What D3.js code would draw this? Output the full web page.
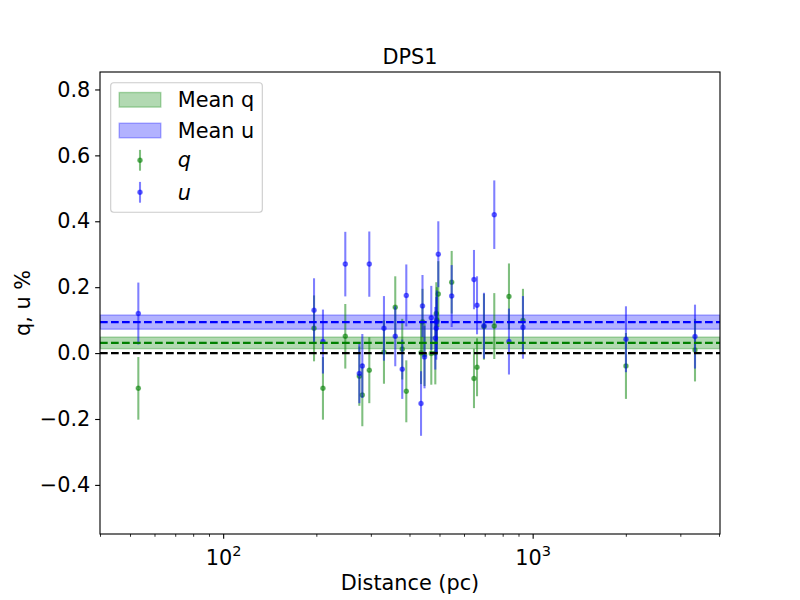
<!DOCTYPE html>
<html>
<head>
<meta charset="utf-8">
<script src="https://cdn.jsdelivr.net/npm/d3@7"></script>
<style>
  html, body { margin: 0; padding: 0; background: #ffffff; }
  svg { display: block; font-family: "DejaVu Sans", sans-serif; }
</style>
</head>
<body>
<svg id="chart" width="800" height="600"></svg>
<script>
// ---- data ----
const distances = [53.2, 196.6, 210.1, 248.1, 275.4, 281.6, 296.6, 330.8, 359.8, 379.0, 390.6, 435.8, 440.6, 447.3, 470.4, 484.7, 488.3, 490.1, 495.6, 547.5, 646.3, 661.0, 696.2, 751.6, 838.4, 930.4, 2002, 3346];
const qValues = [-0.107, 0.075, -0.107, 0.051, -0.070, -0.127, -0.052, 0.003, 0.139, 0.012, -0.116, 0.001, 0.095, -0.005, -0.001, 0.000, 0.120, 0.100, 0.179, 0.215, -0.077, -0.043, 0.080, 0.082, 0.172, 0.099, -0.039, 0.009];
const qErrors = [0.095, 0.100, 0.095, 0.098, 0.090, 0.095, 0.100, 0.096, 0.094, 0.092, 0.094, 0.095, 0.100, 0.095, 0.095, 0.095, 0.095, 0.100, 0.100, 0.095, 0.090, 0.088, 0.100, 0.100, 0.100, 0.096, 0.100, 0.095];
const uValues = [0.120, 0.130, 0.035, 0.270, -0.062, -0.039, 0.270, 0.075, 0.051, -0.049, 0.175, -0.153, 0.143, -0.012, 0.107, 0.045, 0.075, 0.095, 0.300, 0.173, 0.223, 0.145, 0.083, 0.420, 0.035, 0.078, 0.042, 0.050];
const uErrors = [0.094, 0.097, 0.097, 0.098, 0.090, 0.097, 0.099, 0.098, 0.091, 0.090, 0.094, 0.098, 0.094, 0.095, 0.097, 0.095, 0.095, 0.095, 0.100, 0.094, 0.090, 0.088, 0.100, 0.104, 0.100, 0.095, 0.100, 0.097];
const meanQ = 0.031, meanQErr = 0.0175;
const meanU = 0.094, meanUErr = 0.0215;
const yTicks = [-0.4, -0.2, 0.0, 0.2, 0.4, 0.6, 0.8];
const xMajorTicks = [100, 1000];
const xTickExponents = ["2", "3"];
const xDomain = [40, 4030];
const yDomain = [-0.549, 0.853];
const title = "DPS1";
const xLabel = "Distance (pc)";
const yLabel = "q, u %";
const legendLabels = ["Mean q", "Mean u", "q", "u"];

// ---- layout ----
const L = 100, R = 720, T = 72, B = 534;
const FS = 20.8;
const green = "#008000", blue = "#0000ff";
const svg = d3.select("#chart");

const x = d3.scaleLog().domain(xDomain).range([L, R]);
const y = d3.scaleLinear().domain(yDomain).range([B, T]);

const plot = svg.append("g");
const clipId = "clipPlot";
svg.append("defs").append("clipPath").attr("id", clipId)
  .append("rect").attr("x", L).attr("y", T).attr("width", R - L).attr("height", B - T);
plot.attr("clip-path", `url(#${clipId})`);

// bands
function band(mean, err, color) {
  plot.append("rect")
    .attr("x", L).attr("width", R - L)
    .attr("y", y(mean + err)).attr("height", y(mean - err) - y(mean + err))
    .attr("fill", color).attr("fill-opacity", 0.3)
    .attr("stroke", color).attr("stroke-opacity", 0.3).attr("stroke-width", 1.39);
}
band(meanQ, meanQErr, green);
band(meanU, meanUErr, blue);

// errorbars
function errorbars(vals, errs, color) {
  const g = plot.append("g");
  distances.forEach((d, i) => {
    g.append("line")
      .attr("x1", x(d)).attr("x2", x(d))
      .attr("y1", y(vals[i] - errs[i])).attr("y2", y(vals[i] + errs[i]))
      .attr("stroke", color).attr("stroke-width", 2.08).attr("stroke-opacity", 0.5);
    g.append("circle")
      .attr("cx", x(d)).attr("cy", y(vals[i])).attr("r", 2.08)
      .attr("fill", color).attr("fill-opacity", 0.5)
      .attr("stroke", color).attr("stroke-opacity", 0.5).attr("stroke-width", 1.39);
  });
}
errorbars(qValues, qErrors, green);
errorbars(uValues, uErrors, blue);

// horizontal dashed lines
function hline(v, color) {
  plot.append("line")
    .attr("x1", L).attr("x2", R).attr("y1", y(v)).attr("y2", y(v))
    .attr("stroke", color).attr("stroke-width", 2.08)
    .attr("stroke-dasharray", "7.7,3.3");
}
hline(0, "#000000");
hline(meanQ, green);
hline(meanU, blue);

// frame
svg.append("rect").attr("x", L).attr("y", T).attr("width", R - L).attr("height", B - T)
  .attr("fill", "none").attr("stroke", "#000").attr("stroke-width", 1.11);

// y axis
const yAxis = svg.append("g").attr("transform", `translate(${L},0)`)
  .call(d3.axisLeft(y).tickValues(yTicks).tickSize(4.86).tickPadding(4.86)
    .tickFormat(d => d3.format(".1f")(d)));
yAxis.select(".domain").remove();
yAxis.selectAll(".tick line").attr("stroke-width", 1.11);
yAxis.selectAll(".tick text").attr("font-size", FS).attr("font-family", "DejaVu Sans").attr("fill", "#000");

// x axis minor ticks
const minor = [];
for (let e = 1; e <= 3; e++) for (let m = 2; m <= 9; m++) {
  const v = m * Math.pow(10, e);
  if (v >= xDomain[0] && v <= xDomain[1]) minor.push(v);
}
const xMinor = svg.append("g").attr("transform", `translate(0,${B})`)
  .call(d3.axisBottom(x).tickValues(minor).tickSize(2.78).tickFormat(() => ""));
xMinor.select(".domain").remove();
xMinor.selectAll(".tick line").attr("stroke-width", 0.83);

// x axis major ticks
const xAxis = svg.append("g").attr("transform", `translate(0,${B})`)
  .call(d3.axisBottom(x).tickValues(xMajorTicks).tickSize(4.86).tickFormat(() => ""));
xAxis.select(".domain").remove();
xAxis.selectAll(".tick line").attr("stroke-width", 1.11);
xAxis.selectAll(".tick text").remove();
xAxis.selectAll(".tick").each(function(d, i) {
  const t = d3.select(this).append("text")
    .attr("y", 31).attr("text-anchor", "middle")
    .attr("font-size", FS).attr("font-family", "DejaVu Sans").attr("fill", "#000");
  t.append("tspan").text("10");
  t.append("tspan").attr("font-size", FS * 0.7).attr("dy", -9).text(xTickExponents[i]);
});

// title and labels
svg.append("text").attr("x", (L + R) / 2).attr("y", 64).attr("text-anchor", "middle")
  .attr("font-size", FS).attr("fill", "#000").text(title);
svg.append("text").attr("x", (L + R) / 2).attr("y", 590).attr("text-anchor", "middle")
  .attr("font-size", FS).attr("fill", "#000").text(xLabel);
svg.append("text").attr("transform", `translate(30,${(T + B) / 2}) rotate(-90)`)
  .attr("text-anchor", "middle").attr("font-size", FS).attr("fill", "#000").text(yLabel);

// legend
const lg = svg.append("g");
lg.append("rect").attr("x", 110.7).attr("y", 82.7).attr("width", 151.6).attr("height", 129.6)
  .attr("rx", 3).attr("fill", "#fff").attr("fill-opacity", 0.8)
  .attr("stroke", "#cccccc").attr("stroke-width", 1.11);
const patchRows = [{c: green, cy: 99.8, base: 106.7}, {c: blue, cy: 130.5, base: 137.7}];
patchRows.forEach((r, i) => {
  lg.append("rect").attr("x", 119.2).attr("y", r.cy - 7.3).attr("width", 41.6).attr("height", 14.6)
    .attr("fill", r.c).attr("fill-opacity", 0.3)
    .attr("stroke", r.c).attr("stroke-opacity", 0.3).attr("stroke-width", 1.39);
  lg.append("text").attr("x", 177.7).attr("y", r.base).attr("font-size", FS).attr("fill", "#000")
    .text(legendLabels[i]);
});
const ebRows = [{c: green, cy: 160.3, base: 167}, {c: blue, cy: 192.3, base: 199.5}];
ebRows.forEach((r, i) => {
  lg.append("line").attr("x1", 140).attr("x2", 140).attr("y1", r.cy - 10.4).attr("y2", r.cy + 10.4)
    .attr("stroke", r.c).attr("stroke-width", 2.08).attr("stroke-opacity", 0.5);
  lg.append("circle").attr("cx", 140).attr("cy", r.cy).attr("r", 2.08)
    .attr("fill", r.c).attr("fill-opacity", 0.5)
    .attr("stroke", r.c).attr("stroke-opacity", 0.5).attr("stroke-width", 1.39);
  lg.append("text").attr("x", 177.7).attr("y", r.base).attr("font-size", FS).attr("font-style", "italic")
    .attr("fill", "#000").text(legendLabels[i + 2]);
});
</script>
</body>
</html>
